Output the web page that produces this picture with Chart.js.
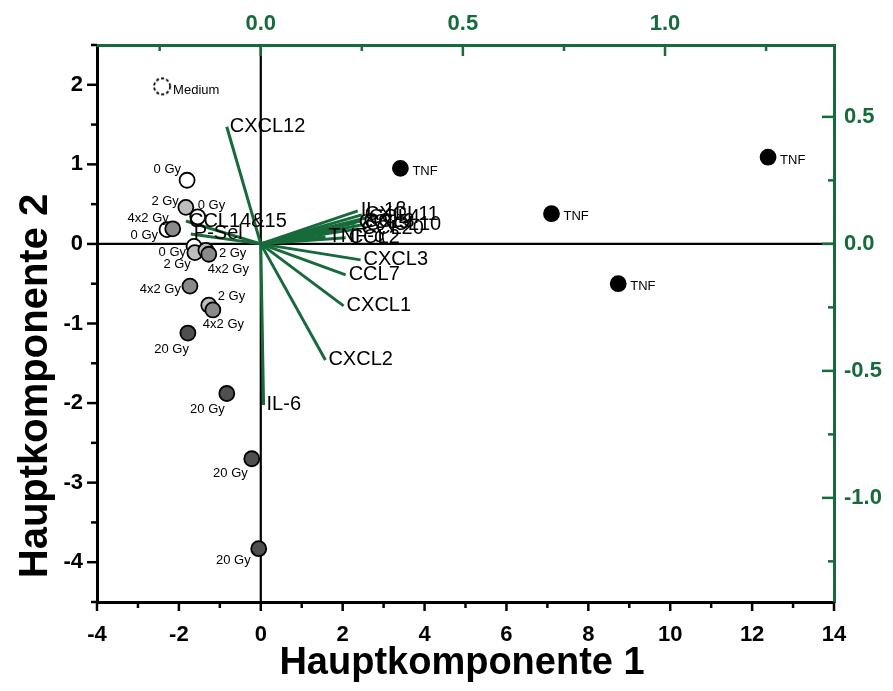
<!DOCTYPE html>
<html>
<head>
<meta charset="utf-8">
<title>Biplot Hauptkomponenten</title>
<script src="https://cdn.jsdelivr.net/npm/chart.js@4.4.0/dist/chart.umd.min.js"></script>
<style>
  html, body { margin: 0; padding: 0; background: #fff; }
  #wrap { width: 893px; height: 691px; position: relative; }
</style>
</head>
<body>
<div id="wrap"><canvas id="biplot"></canvas></div>
<script>
// ---- scores (Hauptkomponente 1 / Hauptkomponente 2) ----
const scoreGroup = ['Medium', '0 Gy', '2 Gy', '0 Gy', '4x2 Gy', '0 Gy', '0 Gy', '2 Gy', '2 Gy', '4x2 Gy',
  '4x2 Gy', '2 Gy', '4x2 Gy', '20 Gy', '20 Gy', '20 Gy', '20 Gy', 'TNF', 'TNF', 'TNF', 'TNF'];
const scoreX = [-2.41, -1.80, -1.83, -1.54, -2.15, -2.29, -1.63, -1.61, -1.34, -1.27,
  -1.73, -1.27, -1.17, -1.78, -0.83, -0.22, -0.05, 3.41, 7.10, 8.73, 12.39];
const scoreY = [1.98, 0.80, 0.46, 0.34, 0.19, 0.18, -0.03, -0.11, -0.08, -0.13,
  -0.53, -0.77, -0.83, -1.12, -1.88, -2.70, -3.83, 0.95, 0.38, -0.50, 1.09];

// ---- loadings (top / right axes) ----
const loadingNames = ['CXCL12', 'CCL14&15', 'P-Sel', 'IL-1β', 'CXCL11', 'CCL4', 'CCL3', 'CCL5', 'CXCL10',
  'CCL20', 'TNF-α', 'CCL2', 'CXCL3', 'CCL7', 'CXCL1', 'CXCL2', 'IL-6'];
const loadingX = [-0.084, -0.185, -0.173, 0.240, 0.250, 0.260, 0.247, 0.235, 0.252,
  0.242, 0.160, 0.210, 0.247, 0.210, 0.205, 0.160, 0.007];
const loadingY = [0.461, 0.090, 0.039, 0.130, 0.114, 0.102, 0.090, 0.083, 0.075,
  0.059, 0.028, 0.024, -0.063, -0.122, -0.244, -0.457, -0.634];

// ---- tick labels ----
const pc1Labels = [-4, -2, 0, 2, 4, 6, 8, 10, 12, 14];
const pc2Labels = [-4, -3, -2, -1, 0, 1, 2];
const loadXLabels = [0.0, 0.5, 1.0];
const loadYLabels = [-1.0, -0.5, 0.0, 0.5];

// ---- look ----
const GREEN = '#176b3a';
const tickFont = "'Liberation Sans Narrow', 'Arial Narrow', 'Liberation Sans', Arial, sans-serif";
const textFont = "'Liberation Sans', Arial, sans-serif";

const groupStyle = {
  'Medium': { fill: '#ffffff', order: 4 },
  '0 Gy': { fill: '#ffffff', order: 3 },
  '2 Gy': { fill: '#bdbdbd', order: 2 },
  '4x2 Gy': { fill: '#8a8a8a', order: 1 },
  '20 Gy': { fill: '#4f4f4f', order: 1 },
  'TNF': { fill: '#000000', order: 1 }
};

// label offsets next to each score point [dx, dy, align]
const labelLayout = [
  [11, 4, 'left'], [-6, -11, 'right'], [-7, -6, 'right'], [0, -11, 'left'], [-4, -10, 'right'],
  [-9, 6, 'right'], [-8, 6, 'right'], [-4, 12, 'right'], [13, 3, 'left'], [-1, 15, 'left'],
  [-9, 3, 'right'], [9, -9, 'left'], [-10, 14, 'left'], [1, 16, 'right'], [-2, 16, 'right'],
  [-4, 15, 'right'], [-8, 12, 'right'], [12, 3, 'left'], [12, 3, 'left'], [12, 3, 'left'], [12, 3, 'left']
];

// dashed open circle for "Medium"
function dashedCircle() {
  const c = document.createElement('canvas');
  c.width = 22; c.height = 22;
  const g = c.getContext('2d');
  g.fillStyle = '#fff';
  g.beginPath(); g.arc(11, 11, 8, 0, Math.PI * 2); g.fill();
  g.setLineDash([3, 2.2]);
  g.lineWidth = 1.8;
  g.strokeStyle = '#000';
  g.stroke();
  return c;
}

// build scatter datasets per group
const groups = [];
scoreGroup.forEach(g => { if (!groups.includes(g)) groups.push(g); });
const datasets = groups.map(g => {
  const pts = [];
  scoreGroup.forEach((sg, i) => { if (sg === g) pts.push({ x: scoreX[i], y: scoreY[i] }); });
  const st = groupStyle[g];
  return {
    label: g,
    data: pts,
    xAxisID: 'x',
    yAxisID: 'y',
    order: st.order,
    pointStyle: g === 'Medium' ? dashedCircle() : 'circle',
    pointRadius: 7.5,
    pointBackgroundColor: st.fill,
    pointBorderColor: '#000',
    pointBorderWidth: 1.8,
    showLine: false
  };
});

// loading vectors from origin
loadingNames.forEach((n, i) => {
  datasets.push({
    type: 'line',
    label: n,
    data: [{ x: 0, y: 0 }, { x: loadingX[i], y: loadingY[i] }],
    xAxisID: 'x2',
    yAxisID: 'y2',
    order: 10,
    borderColor: GREEN,
    borderWidth: 3,
    pointRadius: 0,
    fill: false
  });
});

function stepTicks(from, to, step) {
  const out = [];
  for (let v = from; v <= to + 1e-9; v += step) out.push({ value: Math.round(v * 1000) / 1000 });
  return out;
}
const hasLabel = (list, v) => list.some(l => Math.abs(l - v) < 1e-6);

// tick marks: major where a label sits
const tickMarks = {
  x: { list: pc1Labels, side: 'bottom', major: 9, minor: 6, color: '#000' },
  y: { list: pc2Labels, side: 'left', major: 10, minor: 6, color: '#000' },
  x2: { list: loadXLabels, side: 'top', major: 11, minor: 6, color: GREEN },
  y2: { list: loadYLabels, side: 'right', major: 12, minor: 6, color: GREEN }
};

const biplotPlugin = {
  id: 'biplot',
  beforeDatasetsDraw(chart) {
    const { ctx, chartArea: a, scales } = chart;
    const x0 = scales.x.getPixelForValue(0);
    const y0 = scales.y.getPixelForValue(0);
    ctx.save();
    ctx.strokeStyle = '#000';
    ctx.lineWidth = 2.2;
    ctx.beginPath();
    ctx.moveTo(a.left, y0); ctx.lineTo(a.right, y0);
    ctx.moveTo(x0, a.top); ctx.lineTo(x0, a.bottom);
    ctx.stroke();
    ctx.restore();
  },
  afterDatasetsDraw(chart) {
    const { ctx, scales } = chart;
    ctx.save();
    // loading labels
    ctx.fillStyle = '#000';
    ctx.font = '20px ' + textFont;
    ctx.textAlign = 'left';
    ctx.textBaseline = 'middle';
    loadingNames.forEach((n, i) => {
      const px = scales.x2.getPixelForValue(loadingX[i]);
      const py = scales.y2.getPixelForValue(loadingY[i]);
      ctx.fillText(n, px + 3, py);
    });
    // score labels
    ctx.font = '13px ' + textFont;
    scoreGroup.forEach((g, i) => {
      const px = scales.x.getPixelForValue(scoreX[i]);
      const py = scales.y.getPixelForValue(scoreY[i]);
      const [dx, dy, al] = labelLayout[i];
      ctx.textAlign = al;
      ctx.fillText(g, px + dx, py + dy);
    });
    ctx.restore();
  },
  afterDraw(chart) {
    const { ctx, chartArea: a, scales } = chart;
    ctx.save();
    ctx.lineWidth = 2.5;
    Object.keys(tickMarks).forEach(id => {
      const t = tickMarks[id];
      const sc = scales[id];
      ctx.strokeStyle = t.color;
      sc.ticks.forEach(tk => {
        const p = sc.getPixelForValue(tk.value);
        const len = hasLabel(t.list, tk.value) ? t.major : t.minor;
        ctx.beginPath();
        if (t.side === 'bottom') { ctx.moveTo(p, a.bottom); ctx.lineTo(p, a.bottom + len); }
        if (t.side === 'top') { ctx.moveTo(p, a.top); ctx.lineTo(p, a.top + len); }
        if (t.side === 'left') { ctx.moveTo(a.left, p); ctx.lineTo(a.left - len, p); }
        if (t.side === 'right') { ctx.moveTo(a.right, p); ctx.lineTo(a.right - len, p); }
        ctx.stroke();
      });
    });
    // axis titles
    ctx.fillStyle = '#000';
    ctx.font = 'bold 38px ' + textFont;
    ctx.textAlign = 'center';
    ctx.textBaseline = 'middle';
    ctx.fillText('Hauptkomponente 1', 462, 664);
    ctx.font = 'bold 40px ' + textFont;
    ctx.translate(36, 386);
    ctx.rotate(-Math.PI / 2);
    ctx.fillText('Hauptkomponente 2', 0, 0);
    ctx.restore();
  }
};

function axis(pos, min, max, color, size, ticksFn, labels, fmt, pad) {
  const horiz = pos === 'top' || pos === 'bottom';
  return {
    type: 'linear',
    position: pos,
    min: min,
    max: max,
    grid: { display: false, drawTicks: false },
    border: { display: true, color: color, width: 3 },
    afterBuildTicks: sc => { sc.ticks = ticksFn(); },
    afterFit: sc => { if (horiz) sc.height = size; else sc.width = size; },
    ticks: {
      autoSkip: false,
      maxRotation: 0,
      padding: pad,
      color: color,
      font: { family: tickFont, size: 22, weight: 'bold' },
      callback: v => hasLabel(labels, v) ? fmt(v) : ''
    }
  };
}

new Chart(document.getElementById('biplot'), {
  type: 'scatter',
  data: { datasets: datasets },
  plugins: [biplotPlugin],
  options: {
    responsive: true,
    maintainAspectRatio: false,
    animation: false,
    layout: { padding: 0 },
    plugins: { legend: { display: false }, tooltip: { enabled: false } },
    scales: {
      x: axis('bottom', -4, 14, '#000', 89, () => stepTicks(-4, 14, 1), pc1Labels, v => String(v), 20),
      y: axis('left', -4.5, 2.5, '#000', 97, () => stepTicks(-4.5, 2.5, 0.5), pc2Labels, v => String(v), 14),
      x2: axis('top', -0.405, 1.418, GREEN, 45, () => stepTicks(-0.25, 1.25, 0.25), loadXLabels, v => v.toFixed(1), 8),
      y2: axis('right', -1.41, 0.783, GREEN, 59, () => stepTicks(-1.25, 0.5, 0.25), loadYLabels, v => v.toFixed(1), 10)
    }
  }
});
</script>
</body>
</html>
